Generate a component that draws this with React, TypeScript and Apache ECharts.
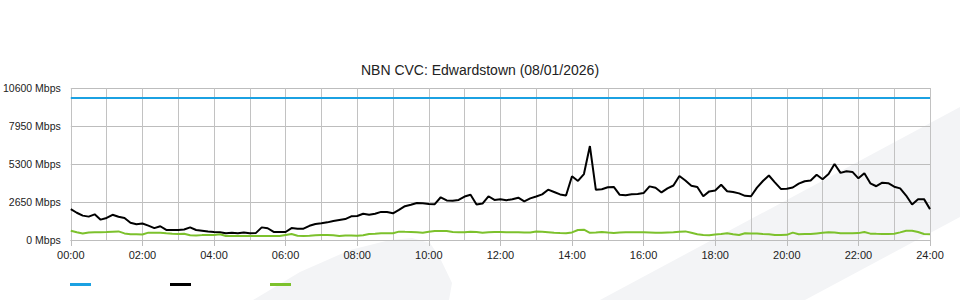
import React, { useEffect, useRef } from 'react';
import * as echarts from 'echarts';

const chartTitle = 'NBN CVC: Edwardstown (08/01/2026)';
const seriesNames = ['Capacity', 'Download', 'Upload'];
const yMax = 10600;
const yStep = 2650;
const capacityMbps = 9900;

// 10-minute samples, 00:00 .. 24:00 (6 per hour, final value at 24:00)
const downloadMbps = [
  2150, 1900, 1700, 1630, 1790, 1420, // 00
  1540, 1760, 1620, 1530, 1200, 1100, // 01
  1150, 1000, 830, 960, 700, 700, // 02
  700, 730, 880, 700, 650, 590, // 03
  560, 540, 470, 510, 470, 530, // 04
  470, 480, 880, 820, 560, 560, // 05
  560, 830, 790, 790, 990, 1110, // 06
  1165, 1230, 1330, 1398, 1460, 1650, // 07
  1678, 1830, 1760, 1830, 1960, 1950, // 08
  1864, 2100, 2360, 2460, 2580, 2563, // 09
  2516, 2500, 2980, 2760, 2740, 2796, // 10
  3029, 3150, 2470, 2540, 3050, 2796, // 11
  2841, 2780, 2841, 2950, 2700, 2900, // 12
  3032, 3180, 3509, 3350, 3180, 3100, // 13
  4450, 4120, 4600, 6550, 3500, 3540, // 14
  3676, 3700, 3150, 3120, 3190, 3210, // 15
  3271, 3740, 3640, 3318, 3600, 3800, // 16
  4464, 4150, 3790, 3700, 3050, 3390, // 17
  3450, 3850, 3400, 3350, 3250, 3080, // 18
  3052, 3650, 4117, 4500, 4020, 3560, // 19
  3573, 3660, 3928, 4100, 4150, 4550, // 20
  4235, 4600, 5300, 4680, 4800, 4750, // 21
  4300, 4661, 3950, 3750, 4000, 3960, // 22
  3715, 3600, 3100, 2480, 2850, 2850, // 23
  2153,
];

const uploadMbps = [
  650, 540, 450, 530, 540, 540, // 00
  550, 580, 600, 460, 400, 400, // 01
  380, 512, 512, 510, 470, 440, // 02
  420, 440, 330, 310, 340, 350, // 03
  350, 400, 280, 280, 280, 280, // 04
  280, 280, 280, 280, 280, 280, // 05
  350, 420, 300, 280, 300, 330, // 06
  350, 350, 330, 280, 310, 320, // 07
  300, 330, 419, 440, 466, 466, // 08
  466, 583, 570, 559, 540, 512, // 09
  580, 629, 629, 620, 560, 536, // 10
  536, 570, 560, 512, 540, 559, // 11
  559, 540, 536, 540, 520, 530, // 12
  600, 580, 540, 500, 480, 470, // 13
  530, 700, 720, 500, 520, 559, // 14
  520, 490, 520, 536, 540, 540, // 15
  540, 530, 512, 500, 520, 540, // 16
  580, 600, 500, 400, 350, 330, // 17
  380, 420, 466, 400, 350, 466, // 18
  460, 450, 419, 400, 350, 350, // 19
  360, 512, 396, 410, 420, 460, // 20
  500, 540, 520, 466, 466, 466, // 21
  480, 559, 443, 430, 420, 420, // 22
  430, 530, 640, 652, 560, 420, // 23
  396,
];

const timeLabels = downloadMbps.map((_, i) => {
  const m = i * 10;
  return `${String(Math.floor(m / 60)).padStart(2, '0')}:${String(m % 60).padStart(2, '0')}`;
});

const FONT = 'Liberation Sans, Arial, sans-serif';

export default function App() {
  const ref = useRef<HTMLDivElement>(null);
  useEffect(() => {
    if (!ref.current) return;
    const chart = echarts.init(ref.current, null, { renderer: 'svg' });
    chart.setOption({
      animation: false,
      backgroundColor: '#ffffff',
      textStyle: { fontFamily: FONT },
      title: {
        text: chartTitle,
        left: 'center',
        top: 58,
        textStyle: { fontSize: 14, fontWeight: 'normal', color: '#222', fontFamily: FONT },
      },
      graphic: [
        {
          type: 'polygon',
          z: -10,
          silent: true,
          shape: {
            points: [
              [253, 300], [300, 272], [350, 250], [390, 240], [412, 238],
              [430, 243], [440, 258], [452, 283], [449, 300],
            ],
          },
          style: { fill: '#f3f4f6' },
        },
        {
          type: 'polygon',
          z: -10,
          silent: true,
          shape: { points: [[600, 300], [960, 107], [960, 217], [805, 300]] },
          style: { fill: '#f3f4f6' },
        },
      ],
      legend: {
        left: 65,
        top: 278,
        icon: 'rect',
        itemWidth: 21,
        itemHeight: 3,
        itemGap: 79,
        formatter: () => '',
        data: seriesNames,
      },
      grid: { left: 70, right: 30, top: 88, bottom: 60, containLabel: false },
      xAxis: {
        type: 'category',
        data: timeLabels,
        boundaryGap: false,
        axisLine: { show: true, lineStyle: { color: '#bdbdbd' } },
        axisTick: { show: true, interval: 11, length: 6, lineStyle: { color: '#bdbdbd' } },
        axisLabel: { interval: 11, margin: 9, fontSize: 11, color: '#222', fontFamily: FONT },
        splitLine: { show: true, interval: 5, lineStyle: { color: '#c2c2c2', width: 1 } },
      },
      yAxis: {
        type: 'value',
        min: 0,
        max: yMax,
        interval: yStep,
        axisLine: { show: false },
        axisTick: { show: false },
        axisLabel: {
          formatter: (v: number) => `${v} Mbps`,
          fontSize: 10.5,
          color: '#222',
          margin: 10,
          fontFamily: FONT,
        },
        splitLine: { show: true, lineStyle: { color: '#bdbdbd', width: 1 } },
      },
      series: [
        {
          name: seriesNames[0],
          type: 'line',
          data: timeLabels.map(() => capacityMbps),
          showSymbol: false,
          lineStyle: { color: '#1ba1e2', width: 2 },
          itemStyle: { color: '#1ba1e2' },
        },
        {
          name: seriesNames[1],
          type: 'line',
          data: downloadMbps,
          showSymbol: false,
          lineStyle: { color: '#000000', width: 2 },
          itemStyle: { color: '#000000' },
        },
        {
          name: seriesNames[2],
          type: 'line',
          data: uploadMbps,
          showSymbol: false,
          lineStyle: { color: '#7cc12c', width: 2 },
          itemStyle: { color: '#7cc12c' },
        },
      ],
    });
    return () => chart.dispose();
  }, []);
  return (
    <div
      ref={ref}
      style={{ position: 'fixed', left: 0, top: 0, width: 960, height: 300 }}
    />
  );
}
